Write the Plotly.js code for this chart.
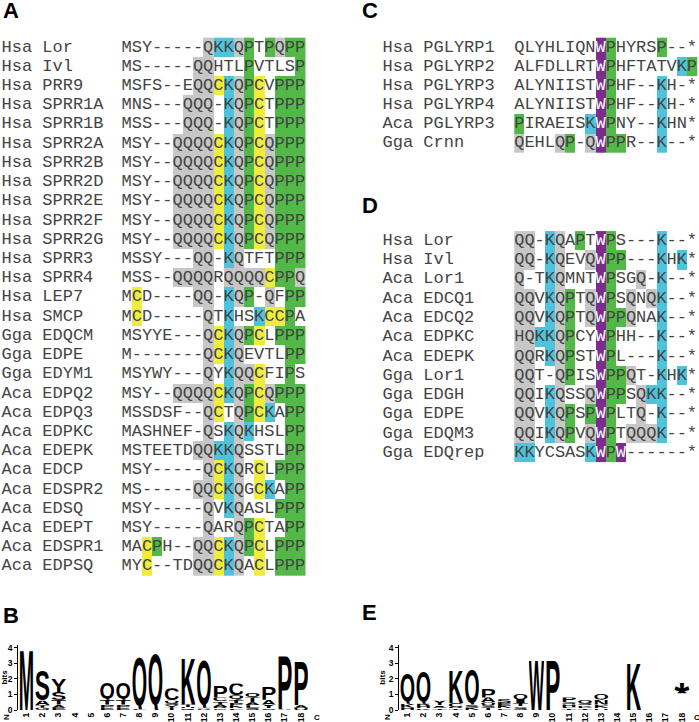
<!DOCTYPE html>
<html><head><meta charset="utf-8">
<script src="https://cdn.plot.ly/plotly-3.0.1.min.js"></script>
<style>html,body{margin:0;padding:0;background:#fff}</style>
</head><body><div id="chart" style="width:699px;height:722px"></div>
<script>
// ---------------- DATA ----------------
// Panel A alignment
const namesA = ["Hsa Lor","Hsa Ivl","Hsa PRR9","Hsa SPRR1A","Hsa SPRR1B","Hsa SPRR2A","Hsa SPRR2B","Hsa SPRR2D","Hsa SPRR2E","Hsa SPRR2F","Hsa SPRR2G","Hsa SPRR3","Hsa SPRR4","Hsa LEP7","Hsa SMCP","Gga EDQCM","Gga EDPE","Gga EDYM1","Aca EDPQ2","Aca EDPQ3","Aca EDPKC","Aca EDEPK","Aca EDCP","Aca EDSPR2","Aca EDSQ","Aca EDEPT","Aca EDSPR1","Aca EDPSQ"];
const seqA = ["MSY-----QKKQPTPQPP","MS-----QQHTLPVTLSP","MSFS--EQQCKQPCVPPP","MNS---QQQ-KQPCTPPP","MSS---QQQ-KQPCTPPP","MSY--QQQQCKQPCQPPP","MSY--QQQQCKQPCQPPP","MSY--QQQQCKQPCQPPP","MSY--QQQQCKQPCQPPP","MSY--QQQQCKQPCQPPP","MSY--QQQQCKQPCQPPP","MSSY---QQ-KQTFTPPP","MSS--QQQQRQQQQCPPQ","MCD----QQ-KQP-QFPP","MCD-----QTKHSKCCPA","MSYYE---QCKQPCLPPP","M-------QCKQEVTLPP","MSYWY---QYKQQCFIPS","MSY--QQQQCKQPCQPPP","MSSDSF--QCTQPCKAPP","MASHNEF-QSKQKHSLPP","MSTEETDQQKKQSSTLPP","MSY-----QCKQRCLPPP","MS-----QQCKQGCKAPP","MSY-----QVKQASLPPP","MSY-----QARQPCTAPP","MACPH--QQCKQPCLPPP","MYC--TDQQCKQACLPPP"];
// shading: g=grey(Q) c=cyan(K) y=yellow(C) p=green(P) w=purple(W) .=none
const shadeA = ["........gccgp.pgpp",".......gg...p....p",".......ggycgpy.ppp","......ggg.cgpy.ppp","......ggg.cgpy.ppp",".....ggggycgpygppp",".....ggggycgpygppp",".....ggggycgpygppp",".....ggggycgpygppp",".....ggggycgpygppp",".....ggggycgpygppp",".......gg.cg...ppp",".....gggg.ggggyppg",".y.....gg.cgp.g.pp",".y......g.c..cyyp.","........gycgpy.ppp","........gycg....pp","........g.cggy..p.",".....ggggycgpygppp","........gy.gpyc.pp","........g.cgc...pp",".......ggccg....pp","........gycg.y.ppp",".......ggycg.yc.pp","........g.cg...ppp","........g..gpy..pp","..yp...ggycgpy.ppp","..y....ggycg.y.ppp"];

// Panel C alignment
const namesC = ["Hsa PGLYRP1","Hsa PGLYRP2","Hsa PGLYRP3","Hsa PGLYRP4","Aca PGLYRP3","Gga Crnn"];
const seqC = ["QLYHLIQNWPHYRSP--*","ALFDLLRTWPHFTATVKP","ALYNIISTWPHF--KH-*","ALYNIISTWPHF--KH-*","PIRAEISKWPNY--KHN*","QEHLQP-QWPPR--K--*"];
const shadeC = ["........wp....p...","........wp......cp","........wp....c...","........wp....c...","p......cwp....c...","g...gp.gwpp...c..."];

// Panel D alignment
const namesD = ["Hsa Lor","Hsa Ivl","Aca Lor1","Aca EDCQ1","Aca EDCQ2","Aca EDPKC","Aca EDEPK","Gga Lor1","Gga EDGH","Gga EDPE","Gga EDQM3","Gga EDQrep"];
const seqD = ["QQ-KQAPTWPS---K--*","QQ-KQEVQWPP---KHK*","Q-TKQMNTWPSGQ-K--*","QQVKQPTQWPSQNQK--*","QQVKQPTQWPPQNAK--*","HQKKQPCYWPHH--K--*","QQRKQPSTWPL---K--*","QQT-QPISWPPQT-KHK*","QQIKQSSQWPPSQKK--*","QQVKQPSPWPLTQ-K--*","QQIKQPVQWPTQQQK--*","KKYCSASKWPW------*"];
const shadeD = ["gg.cg.p.wp....c...","gg.cg..gwpp...c.c.","g..cg...wp..g.c...","gg.cgp.gwp.g.gc...","gg.cgp.gwppg..c...","ggccgp..wp....c...","gg.cgp..wp....c...","gg..gp..wppg..c.c.","gg.cg..gwpp.gcc...","gg.cgp.pwp..g.c...","gg.cgp.gwp.gggc...","cc.....cwpw......."];

// Logo positions / tick labels
const logoPositions = [1,2,3,4,5,6,7,8,9,10,11,12,13,14,15,16,17,18];
const logoTickLabels = ["1","2","3","4","5","6","7","8","9","10","11","12","13","14","15","16","17","18"];
// Panel B logo: per position, stack from bottom to top [letter, bits]
const logoB = [
  [["M",3.9]],
  [["G",0.15],["T",0.15],["A",0.3],["S",2.0]],
  [["E",0.15],["A",0.2],["T",0.3],["S",0.5],["Y",0.85]],
  [],
  [],
  [["E",0.15],["P",0.2],["T",0.3],["Q",1.15]],
  [["E",0.15],["P",0.2],["T",0.3],["Q",1.15]],
  [["L",0.05],["Q",3.5]],
  [["Q",3.72]],
  [["T",0.15],["Y",0.15],["S",0.15],["Q",0.15],["C",0.8]],
  [["Q",0.1],["H",0.1],["T",0.15],["K",3.1]],
  [["R",0.05],["A",0.05],["G",0.05],["Q",3.25]],
  [["G",0.1],["R",0.1],["A",0.15],["T",0.2],["C",0.25],["P",0.75]],
  [["F",0.1],["K",0.15],["P",0.2],["T",0.2],["Q",0.3],["C",0.75]],
  [["S",0.15],["L",0.15],["A",0.2],["T",0.3],["Q",0.3]],
  [["S",0.1],["T",0.15],["I",0.1],["A",0.3],["P",0.85]],
  [["A",0.05],["P",3.45]],
  [["Q",0.15],["A",0.15],["P",2.9]]
];
// Panel E logo ("" = empty space below a symbol)
const logoE = [
  [["H",0.15],["K",0.25],["Q",1.95]],
  [["K",0.1],["H",0.15],["R",0.15],["Q",2.15]],
  [["T",0.1],["C",0.1],["I",0.1],["Y",0.3]],
  [["T",0.1],["R",0.1],["C",0.25],["K",2.1]],
  [["K",0.15],["S",0.2],["Q",2.35]],
  [["T",0.15],["S",0.15],["Q",0.2],["A",0.3],["P",0.58]],
  [["L",0.1],["K",0.15],["E",0.2],["S",0.25]],
  [["S",0.15],["V",0.1],["T",0.2],["I",0.25],["Q",0.35]],
  [["W",3.2]],
  [["P",3.2]],
  [["T",0.1],["L",0.1],["H",0.15],["S",0.15],["P",0.3]],
  [["T",0.1],["P",0.1],["K",0.1],["S",0.15],["Q",0.2]],
  [["H",0.1],["K",0.15],["P",0.1],["N",0.3],["Q",0.4]],
  [],
  [["K",3.1]],
  [],
  [],
  [["",1.07],["*",0.75]]
];

// ---------------- STYLE / GEOMETRY ----------------
const W = 699, H = 722;
const shadeColors = {g:'#c7c7c7', c:'#4fc3dc', y:'#efec3c', p:'#52b848', w:'#7b2c8c'};
const shadeCode = {g:1, c:2, y:3, p:4, w:5};
const textColor = '#444444';
const monoFont = 'Liberation Mono, Courier New, monospace';
const geomA = {x0:121.5, cw:10.2, y0:47.3, rh:19.22, labelStart:1.5};
const geomC = {x0:514.3, cw:10.15, y0:47.3, rh:19.15, labelStart:382.5};
const geomD = {x0:514.3, cw:10.15, y0:240.7, rh:19.27, labelStart:382.5};

function xRangeFor(g){ return [-0.5 - g.x0/g.cw, -0.5 + (W - g.x0)/g.cw]; }
function yRangeFor(g){ return [(H - g.y0)/g.rh, -g.y0/g.rh]; }
function pxToCol(g, px){ return -0.5 + (px - g.x0)/g.cw; }

const colorscale = [[0,shadeColors.g],[0.2,shadeColors.g],[0.2,shadeColors.c],[0.4,shadeColors.c],[0.4,shadeColors.y],[0.6,shadeColors.y],[0.6,shadeColors.p],[0.8,shadeColors.p],[0.8,shadeColors.w],[1,shadeColors.w]];

const traces = [];
function alignmentTraces(names, seqs, shades, g, xa, ya){
  const z = shades.map(s => s.split('').map(ch => shadeCode[ch] || null));
  const ncol = seqs[0].length;
  traces.push({type:'heatmap', z:z, x:[...Array(ncol).keys()], y:[...Array(seqs.length).keys()],
    colorscale:colorscale, zmin:0.5, zmax:5.5, showscale:false, hoverinfo:'skip', xgap:0, ygap:0,
    xaxis:xa, yaxis:ya});
  const xs=[], ys=[], ts=[], cs=[];
  seqs.forEach((s,r) => s.split('').forEach((ch,c) => {
    xs.push(c); ys.push(r); ts.push(ch);
    cs.push(shades[r][c]==='w' ? '#ffffff' : textColor);
  }));
  traces.push({type:'scatter', mode:'text', x:xs, y:ys, text:ts, textposition:'middle center',
    textfont:{family:monoFont, size:17, color:cs}, hoverinfo:'skip', xaxis:xa, yaxis:ya, cliponaxis:false, showlegend:false});
  const lx = pxToCol(g, g.labelStart);
  traces.push({type:'scatter', mode:'text', x:names.map(()=>lx), y:names.map((n,i)=>i), text:names,
    textposition:'middle right', textfont:{family:monoFont, size:17, color:textColor}, hoverinfo:'skip',
    xaxis:xa, yaxis:ya, cliponaxis:false, showlegend:false});
}
alignmentTraces(namesA, seqA, shadeA, geomA, 'x', 'y');
alignmentTraces(namesC, seqC, shadeC, geomC, 'x2', 'y2');
alignmentTraces(namesD, seqD, shadeD, geomD, 'x3', 'y3');

// Logo glyphs as stretched SVG images placed in data coordinates
function glyphSource(ch){
  let t = [0.716, 0];
  if ('CGOSU'.includes(ch)) t = [0.731, -0.013];
  if (ch === 'Q') t = [0.731, -0.065];
  if (ch === '*') t = [0.716, 0.42];
  const fs = 100/(t[0]-t[1]);
  const base = t[0]*fs;
  const svg = "<svg xmlns='http://www.w3.org/2000/svg' width='100' height='100' viewBox='0 0 100 100' preserveAspectRatio='none'>" +
    "<text x='0' y='" + base.toFixed(2) + "' font-family='Liberation Sans, Arial, Helvetica, sans-serif' font-weight='bold' font-size='" + fs.toFixed(2) +
    "' textLength='100' lengthAdjust='spacingAndGlyphs' fill='#000'>" + ch + "</text></svg>";
  return 'data:image/svg+xml;charset=utf-8,' + encodeURIComponent(svg);
}
const images = [];
function logoImages(logo, xa, ya){
  logo.forEach((stack, i) => {
    const p = logoPositions[i];
    let b = 0;
    stack.forEach(([ch, h]) => {
      if (ch) images.push({source:glyphSource(ch), xref:xa, yref:ya, x:p-0.475, y:b+h, sizex:0.95, sizey:h,
        xanchor:'left', yanchor:'top', sizing:'stretch', layer:'above'});
      b += h;
    });
  });
  // invisible trace so the logo axes are drawn
  traces.push({type:'scatter', mode:'markers', x:logoPositions, y:logoPositions.map(()=>0), marker:{opacity:0},
    hoverinfo:'skip', xaxis:xa, yaxis:ya, showlegend:false});
}
logoImages(logoB, 'x4', 'y4');
logoImages(logoE, 'x5', 'y5');

// Logo geometry
const logoBits = 15.6, logoStep = 16.15, logoBase = 710, logoTop = 645;
const logoYDomain = [(H - logoBase)/H, (H - logoTop)/H];
const logoYRange = [0, (logoBase - logoTop)/logoBits];
function logoX(axisPx, firstCenterPx, rightPx){
  return {domain:[axisPx/W, rightPx/W], range:[1 + (axisPx - firstCenterPx)/logoStep, 1 + (rightPx - firstCenterPx)/logoStep]};
}
const lbx = logoX(18.3, 26.3, 330), lex = logoX(399.3, 407.3, 699);
const tickFont = {family:'Liberation Sans, Arial, sans-serif', size:8.5, color:'#000', weight:'bold'};
function logoXAxis(d, ya){
  return {domain:d.domain, range:d.range, anchor:ya, tickmode:'array', tickvals:logoPositions, ticktext:logoTickLabels,
    tickangle:-90, tickfont:tickFont, showgrid:false, zeroline:false, showline:false, ticks:'', ticklen:0, fixedrange:true};
}
function logoYAxis(xa){
  return {domain:logoYDomain, range:logoYRange, anchor:xa, tickmode:'array', tickvals:[0,1,2,3,4], ticks:'outside', ticklen:3,
    tickwidth:1, tickcolor:'#000', showline:true, linecolor:'#000', linewidth:1, showgrid:false, zeroline:false,
    tickfont:tickFont, title:{text:'bits', font:{family:'Liberation Sans, Arial, sans-serif', size:8, weight:'bold', color:'#000'}, standoff:2}, fixedrange:true};
}
function hiddenAxis(range, anchor){ return {domain:[0,1], range:range, anchor:anchor, visible:false, fixedrange:true}; }

const panelFont = {family:'Liberation Sans, Arial, sans-serif', size:22, color:'#000', weight:'bold'};
function panelLabel(t, x, yc){ return {text:'<b>'+t+'</b>', xref:'paper', yref:'paper', x:x/W, y:1-yc/H, xanchor:'left', yanchor:'middle', showarrow:false, font:panelFont}; }
const endFont = {family:'Liberation Sans, Arial, sans-serif', size:8, color:'#000', weight:'bold'};
function endLabel(t, x, yc, ang){ return {text:t, xref:'paper', yref:'paper', x:x/W, y:1-yc/H, xanchor:'center', yanchor:'middle', showarrow:false, font:endFont, textangle:ang}; }

const layout = {
  width:W, height:H, margin:{l:0,r:0,t:0,b:0}, paper_bgcolor:'#fff', plot_bgcolor:'rgba(0,0,0,0)',
  showlegend:false, hovermode:false,
  xaxis:hiddenAxis(xRangeFor(geomA),'y'), yaxis:hiddenAxis(yRangeFor(geomA),'x'),
  xaxis2:hiddenAxis(xRangeFor(geomC),'y2'), yaxis2:hiddenAxis(yRangeFor(geomC),'x2'),
  xaxis3:hiddenAxis(xRangeFor(geomD),'y3'), yaxis3:hiddenAxis(yRangeFor(geomD),'x3'),
  xaxis4:logoXAxis(lbx,'y4'), yaxis4:logoYAxis('x4'),
  xaxis5:logoXAxis(lex,'y5'), yaxis5:logoYAxis('x5'),
  images:images,
  annotations:[
    panelLabel('A', 1, 11), panelLabel('B', 1, 615), panelLabel('C', 360, 11), panelLabel('D', 360, 205), panelLabel('E', 360, 612),
    endLabel('N', 6, 717, -90), endLabel('C', 317, 717, 0), endLabel('N', 387, 717, -90), endLabel('C', 697, 717, 0)
  ]
};
Plotly.newPlot('chart', traces, layout, {displayModeBar:false, staticPlot:true});
</script>
</body></html>
